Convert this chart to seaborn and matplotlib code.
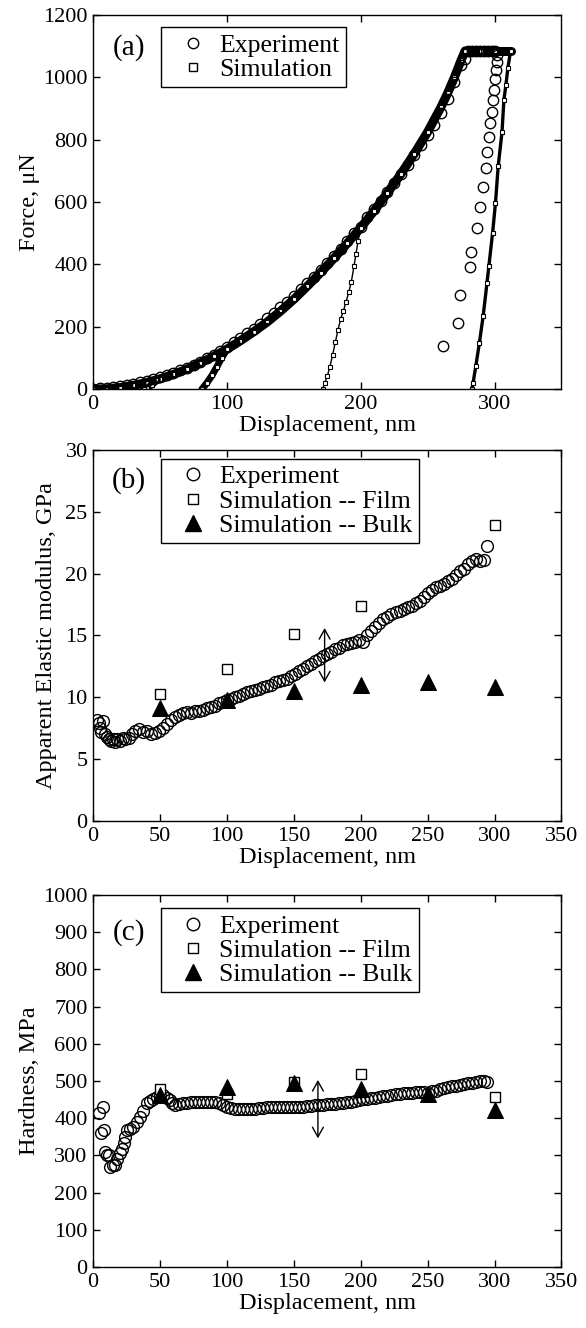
import matplotlib
matplotlib.use('Agg')
import matplotlib.pyplot as plt
import seaborn as sns
from matplotlib.lines import Line2D

# ---- panel (a): force vs displacement ----
exp_load_x = [0, 5, 10, 15, 20, 25, 30, 35, 40, 45, 50, 55, 60, 65, 70, 75, 80, 85, 90, 95,
              100, 105, 110, 115, 120, 125, 130, 135, 140, 145, 150, 155, 160, 165, 170, 175,
              180, 185, 190, 195, 200, 205, 210, 215, 220, 225, 230, 235, 240, 245, 250, 255,
              260, 265, 270, 275, 278]
exp_load_y = [0, 2, 4, 6, 9, 13, 17, 22, 27, 33, 39, 46, 53, 60, 69, 78, 88, 99, 111, 123,
              135, 150, 164, 179, 194, 210, 227, 244, 262, 281, 300, 320, 340, 361, 383, 405,
              428, 451, 475, 500, 520, 551, 578, 605, 633, 661, 690, 720, 752, 784, 815, 848,
              885, 930, 985, 1040, 1060]
exp_hold_x = [280, 283, 286, 289, 292, 295, 298, 300]
exp_hold_y = [1085, 1085, 1085, 1085, 1085, 1085, 1085, 1085]
exp_unload_x = [301.6, 301.6, 301, 300.3, 299.5, 299, 298.2, 297, 295.7, 294.4, 293.9, 291.4,
                289, 287, 282.7, 282, 274.5, 272.8, 261.5]
exp_unload_y = [1072, 1050, 1024, 994, 960, 928, 890, 855, 810, 762, 708, 649, 585, 516,
                440, 392, 301, 213, 138]

sim_load_x = [0, 10, 20, 30, 40, 50, 60, 70, 80, 90, 100, 110, 120, 130, 140, 150, 160, 170,
              180, 190, 200, 210, 220, 230, 240, 250, 260, 265, 270, 275, 278]
sim_load_y = [0, 1, 5, 12, 21, 33, 47, 64, 84, 105, 128, 155, 184, 215, 250, 288, 330, 374,
              420, 468, 518, 572, 630, 690, 755, 825, 905, 950, 1000, 1055, 1085]
sim_hold_x = [278, 290, 300, 312]
sim_hold_y = [1085, 1085, 1085, 1085]
sim_un1_x = [48, 44, 40, 38]
sim_un1_y = [30, 14, 3, 0]
sim_un2_x = [100, 96, 92.5, 89, 85, 81.3]
sim_un2_y = [128, 100, 72, 45, 20, 0]
sim_un3_x = [200, 198, 196.5, 195, 193, 191, 189, 187, 185, 183, 181, 179, 177, 175, 173, 171.5]
sim_un3_y = [518, 475, 435, 395, 345, 310, 280, 250, 225, 190, 150, 110, 72, 42, 19, 0]
sim_un4_x = [312, 310, 308.5, 307, 305.6, 302.8, 300.7, 298.6, 295.8, 294.4, 291.5, 288.7,
             286, 284, 283]
sim_un4_y = [1085, 1030, 975, 927, 824, 717, 596, 502, 395, 341, 234, 148, 73, 20, 0]

# ---- panel (b): apparent elastic modulus ----
mod_x = [2.5, 4, 5, 6, 7.5, 8.5, 10, 11.5, 13, 14.5, 16, 18, 20, 22, 24, 26.5, 29, 31.5,
         34, 37, 40, 43, 46, 49, 52, 55, 58, 61, 64, 67, 70, 73, 76, 79, 82, 85, 88, 91,
         94, 97, 100, 103, 106, 109, 112, 115, 118, 121, 124, 127, 130, 133, 136, 139,
         142, 145, 148, 151, 154, 157, 160, 163, 166, 169, 172, 175, 178, 181, 184, 187,
         190, 193, 196, 199, 202, 205, 208, 211, 214, 217, 220, 223, 226, 229, 232, 235,
         238, 241, 244, 247, 250, 253, 256, 259, 262, 265, 268, 271, 274, 277, 280, 283,
         286, 289, 292, 294.5]
mod_y = [8.2, 7.9, 7.5, 7.2, 8.1, 7.0, 6.8, 6.6, 6.5, 6.6, 6.4, 6.6, 6.5, 6.7, 6.6, 6.7,
         7.0, 7.3, 7.4, 7.2, 7.3, 7.0, 7.1, 7.3, 7.5, 7.8, 8.2, 8.4, 8.6, 8.7, 8.8, 8.7,
         8.9, 8.9, 9.0, 9.1, 9.2, 9.3, 9.5, 9.6, 9.8, 9.9, 10.0, 10.1, 10.3, 10.4, 10.5,
         10.6, 10.7, 10.8, 10.9, 11.0, 11.2, 11.3, 11.4, 11.5, 11.7, 11.9, 12.1, 12.3,
         12.5, 12.7, 12.9, 13.1, 13.3, 13.5, 13.7, 13.9, 14.0, 14.2, 14.3, 14.4, 14.5,
         14.6, 14.5, 15.0, 15.4, 15.7, 16.0, 16.3, 16.5, 16.7, 16.9, 17.0, 17.1, 17.3,
         17.4, 17.6, 17.8, 18.1, 18.4, 18.7, 18.9, 19.0, 19.2, 19.4, 19.6, 19.9, 20.2,
         20.4, 20.8, 21.0, 21.2, 21.0, 21.1, 22.2]
film_x = [50, 100, 150, 200, 300]
mod_film = [10.3, 12.3, 15.1, 17.4, 23.9]
bulk_x = [50, 100, 150, 200, 250, 300]
mod_bulk = [9.1, 9.8, 10.5, 11.0, 11.2, 10.8]
mod_arrow = (173, 11.2, 15.6)

# ---- panel (c): hardness ----
hard_x = [4, 6, 7.7, 8, 9.2, 10.5, 11.7, 12.7, 14.5, 16.5, 18, 20, 21.5, 22.7, 24, 25, 27.5,
          30, 32.5, 35, 37.5, 40, 42.5, 45, 47.4, 50, 52.4, 55, 57.4, 59, 61, 64, 67, 70,
          73, 76, 79, 82, 85, 88, 91, 94, 97, 100, 103, 106, 109, 112, 115, 118, 121, 124,
          127, 130, 133, 136, 139, 142, 145, 148, 151, 154, 157, 160, 163, 166, 169, 172,
          175, 178, 181, 184, 187, 190, 193, 196, 199, 202, 205, 208, 211, 214, 217, 220,
          223, 226, 229, 232, 235, 238, 241, 244, 247, 250, 253, 256, 259, 262, 265, 268,
          271, 274, 277, 280, 283, 286, 289, 292, 294.5]
hard_y = [413, 360, 431, 368, 310, 300, 301, 270, 275, 274, 290, 306, 318, 333, 350, 368,
          372, 377, 390, 404, 420, 440, 447, 453, 458, 460, 462, 455, 449, 440, 436, 439,
          441, 441, 443, 444, 444, 443, 443, 444, 443, 441, 436, 431, 428, 426, 424, 424,
          424, 425, 426, 427, 428, 430, 430, 430, 431, 431, 431, 430, 430, 429, 431, 433,
          434, 435, 436, 436, 437, 438, 439, 440, 441, 443, 445, 447, 449, 451, 453, 454,
          455, 457, 459, 460, 462, 464, 466, 467, 468, 469, 470, 471, 470, 469, 472, 474,
          478, 482, 485, 486, 488, 490, 492, 495, 496, 497, 499, 500, 498]
hard_film = [478, 465, 498, 518, 456]
hard_bulk = [462, 485, 494, 478, 465, 422]
hard_arrow = (168, 346, 503)

sns.set_style('ticks', {'axes.edgecolor': 'black', 'xtick.color': 'black',
                        'ytick.color': 'black', 'text.color': 'black',
                        'axes.labelcolor': 'black'})
plt.rcParams['font.family'] = ['Liberation Serif', 'DejaVu Serif']

fig = plt.figure(figsize=(5.86, 13.28), dpi=100)
ax_a = fig.add_axes([0.159, 0.707, 0.799, 0.2816])
ax_b = fig.add_axes([0.159, 0.3818, 0.799, 0.2794])
ax_c = fig.add_axes([0.159, 0.0459, 0.799, 0.2801])

TICK = 16
LAB = 17.5
LEG = 18.5
PAN = 21


def style(ax):
    ax.tick_params(direction='in', top=True, right=True, length=5, width=1,
                   labelsize=TICK, pad=4)
    for s in ax.spines.values():
        s.set_linewidth(1.0)
        s.set_color('black')
    ax.set_xlabel('Displacement, nm', fontsize=LAB, labelpad=1)


def legend(ax, handles, labels, top):
    leg = ax.legend(handles, labels, loc='upper left', bbox_to_anchor=(0.145, top),
                    fontsize=LEG, frameon=True, fancybox=False, edgecolor='black',
                    framealpha=1, borderpad=0.25, handlelength=2.0, handletextpad=0.0,
                    labelspacing=0.05, borderaxespad=0)
    leg.get_frame().set_linewidth(1.0)


def sim_seg(ax, xs, ys, lw):
    sns.lineplot(x=xs, y=ys, ax=ax, sort=False, estimator=None, color='black', lw=lw,
                 marker='s', markersize=3, markerfacecolor='white',
                 markeredgecolor='black', markeredgewidth=0.8, zorder=2)


def arrow(ax, spec):
    ax.annotate('', xy=(spec[0], spec[2]), xytext=(spec[0], spec[1]),
                arrowprops=dict(arrowstyle='<->,head_length=0.5,head_width=0.28',
                                color='black', lw=1.0, mutation_scale=14,
                                shrinkA=0, shrinkB=0))


# (a)
sim_seg(ax_a, sim_load_x, sim_load_y, 6.5)
sim_seg(ax_a, sim_hold_x, sim_hold_y, 6.5)
sim_seg(ax_a, sim_un1_x, sim_un1_y, 5)
sim_seg(ax_a, sim_un2_x, sim_un2_y, 5)
sim_seg(ax_a, sim_un3_x, sim_un3_y, 1.0)
sim_seg(ax_a, sim_un4_x, sim_un4_y, 2.4)
for xs, ys in [(exp_load_x, exp_load_y), (exp_hold_x, exp_hold_y),
               (exp_unload_x, exp_unload_y)]:
    sns.lineplot(x=xs, y=ys, ax=ax_a, sort=False, estimator=None, linestyle='none',
                 marker='o', markersize=7.5, markerfacecolor='none',
                 markeredgecolor='black', markeredgewidth=1.0, zorder=3)
ax_a.set_xlim(0, 350)
ax_a.set_ylim(0, 1200)
ax_a.set_xticks([0, 100, 200, 300])
ax_a.set_yticks(range(0, 1201, 200))
ax_a.set_ylabel('Force, μN', fontsize=LAB, labelpad=2)
style(ax_a)
ax_a.text(27, 1097, '(a)', fontsize=PAN, ha='center', va='center')
legend(ax_a,
       [Line2D([], [], ls='none', marker='o', ms=7.5, mfc='none', mec='black', mew=1.0),
        Line2D([], [], ls='none', marker='s', ms=6, mfc='none', mec='black', mew=1.0)],
       ['Experiment', 'Simulation'], 0.968)


def props_panel(ax, xs, ys, film, bulk):
    sns.lineplot(x=xs, y=ys, ax=ax, sort=False, estimator=None, linestyle='none',
                 marker='o', markersize=8.5, markerfacecolor='none',
                 markeredgecolor='black', markeredgewidth=1.0, zorder=2)
    sns.lineplot(x=film_x, y=film, ax=ax, sort=False, estimator=None, linestyle='none',
                 marker='s', markersize=6.5, markerfacecolor='white',
                 markeredgecolor='black', markeredgewidth=1.0, zorder=3)
    sns.lineplot(x=bulk_x, y=bulk, ax=ax, sort=False, estimator=None, linestyle='none',
                 marker='^', markersize=12, markerfacecolor='black',
                 markeredgecolor='black', zorder=4)
    ax.set_xlim(0, 350)
    ax.set_xticks(range(0, 351, 50))
    style(ax)


h3 = [Line2D([], [], ls='none', marker='o', ms=9, mfc='none', mec='black', mew=1.0),
      Line2D([], [], ls='none', marker='s', ms=7, mfc='none', mec='black', mew=1.0),
      Line2D([], [], ls='none', marker='^', ms=11, mfc='black', mec='black')]
l3 = ['Experiment', 'Simulation -- Film', 'Simulation -- Bulk']

# (b)
props_panel(ax_b, mod_x, mod_y, mod_film, mod_bulk)
ax_b.set_ylim(0, 30)
ax_b.set_yticks(range(0, 31, 5))
ax_b.set_ylabel('Apparent Elastic modulus, GPa', fontsize=LAB, labelpad=6)
ax_b.text(27, 27.5, '(b)', fontsize=PAN, ha='center', va='center')
arrow(ax_b, mod_arrow)
legend(ax_b, h3, l3, 0.976)

# (c)
props_panel(ax_c, hard_x, hard_y, hard_film, hard_bulk)
ax_c.set_ylim(0, 1000)
ax_c.set_yticks(range(0, 1001, 100))
ax_c.set_ylabel('Hardness, MPa', fontsize=LAB, labelpad=2)
ax_c.text(27, 898, '(c)', fontsize=PAN, ha='center', va='center')
arrow(ax_c, hard_arrow)
legend(ax_c, h3, l3, 0.965)

fig.savefig('out.png', dpi=100)
